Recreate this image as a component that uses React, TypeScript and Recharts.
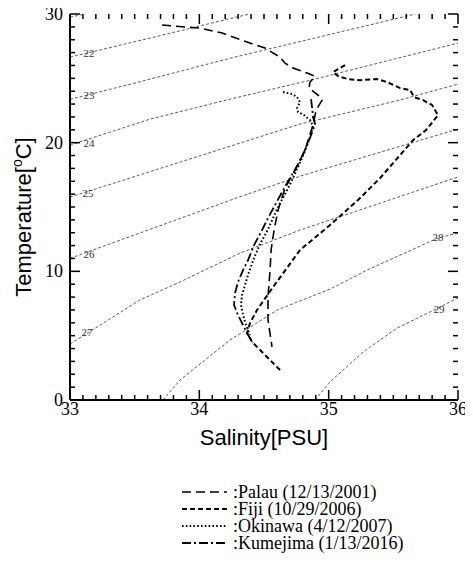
import React from 'react';
import { ComposedChart, Line, XAxis, YAxis, ReferenceDot, Customized } from 'recharts';

// ---------- axis ticks ----------
const salinityTicks = [
  33, 33.1, 33.2, 33.3, 33.4, 33.5, 33.6, 33.7, 33.8, 33.9,
  34, 34.1, 34.2, 34.3, 34.4, 34.5, 34.6, 34.7, 34.8, 34.9,
  35, 35.1, 35.2, 35.3, 35.4, 35.5, 35.6, 35.7, 35.8, 35.9, 36,
];
const salinityLabels = [33, 34, 35, 36];
const temperatureTicks = [
  0, 1, 2, 3, 4, 5, 6, 7, 8, 9, 10, 11, 12, 13, 14, 15, 16, 17, 18, 19, 20,
  21, 22, 23, 24, 25, 26, 27, 28, 29, 30,
];
const temperatureLabels = [0, 10, 20, 30];
const salinityMin = 33;
const salinityMax = 36;
const temperatureMin = 0;
const temperatureMax = 30;

// ---------- density contours (salinity, temperature) ----------
const sigma21 = [[33, 29.76], [33.12, 30]];
const sigma22 = [[33, 26.65], [33.62, 28.13], [34.24, 29.65], [34.39, 30]];
const sigma23 = [[33, 23.36], [33.62, 24.94], [34.24, 26.57], [34.86, 28.05], [35.67, 30]];
const sigma24 = [[33, 19.81], [33.62, 21.83], [34.24, 23.39], [34.86, 24.86], [36, 27.74]];
const sigma25 = [[33, 15.77], [34.315, 19.97], [34.78, 21.45], [35.55, 23.31], [36, 24.55]];
const sigma26 = [[33, 11.01], [34.315, 15.8], [34.78, 17.4], [36, 21.06]];
const sigma27 = [[33, 4.35], [33.54, 7.77], [33.85, 9.17], [34.315, 11.42], [34.78, 13.21], [35.01, 13.99], [36, 17.33]];
const sigma28 = [[33.719, 0], [33.85, 1.55], [34.237, 4.66], [34.601, 6.99], [35.011, 8.62], [35.297, 10.1], [35.846, 12.59], [36, 12.98]];
const sigma29 = [[34.895, 0], [35.01, 1.4], [35.266, 3.73], [35.529, 5.59], [35.846, 7.15], [36, 7.93]];
const contours = [sigma21, sigma22, sigma23, sigma24, sigma25, sigma26, sigma27, sigma28, sigma29];

const contourLabelText = ['22', '23', '24', '25', '26', '27', '28', '29'];
const contourLabelS = [33.147, 33.147, 33.147, 33.139, 33.147, 33.131, 35.846, 35.854];
const contourLabelT = [26.96, 23.7, 19.97, 16.08, 11.34, 5.28, 12.67, 7.07];

// ---------- profiles (salinity, temperature) ----------
const palau = [
  [33.712, 29.14], [34.005, 28.9], [34.176, 28.52], [34.369, 27.82], [34.508, 27.35],
  [34.624, 26.65], [34.663, 26.18], [34.725, 25.8], [34.833, 25.41], [34.895, 25.17],
  [34.856, 24.71], [34.848, 24.24], [34.918, 23.7], [34.949, 23.31], [34.903, 22.53],
  [34.887, 21.76], [34.879, 21.37], [34.817, 19.43], [34.74, 17.87], [34.663, 16.47],
  [34.609, 14.76], [34.578, 13.21], [34.555, 11.66], [34.547, 10.1], [34.531, 8.0],
  [34.531, 6.22], [34.562, 4.12],
];
const fiji = [
  [35.127, 26.03], [35.034, 25.49], [35.073, 25.17], [35.15, 24.94], [35.243, 24.86],
  [35.374, 24.94], [35.452, 24.71], [35.552, 24.24], [35.63, 24.09], [35.66, 23.54],
  [35.73, 23.31], [35.8, 22.92], [35.831, 22.38], [35.846, 22.14], [35.784, 21.37],
  [35.753, 20.98], [35.653, 20.2], [35.398, 17.25], [35.227, 15.54], [35.011, 13.6],
  [34.779, 11.66], [34.57, 8.78], [34.446, 6.99], [34.392, 5.98], [34.369, 5.21],
  [34.408, 4.51], [34.508, 3.5], [34.624, 2.33],
];
const okinawa = [
  [34.647, 23.93], [34.717, 23.78], [34.756, 23.54], [34.779, 23.15], [34.756, 22.69],
  [34.763, 22.38], [34.81, 22.14], [34.856, 21.76], [34.879, 21.29], [34.848, 20.2],
  [34.81, 19.19], [34.763, 18.1], [34.717, 17.09], [34.671, 16.16], [34.616, 15.15],
  [34.57, 14.14], [34.524, 13.13], [34.469, 12.12], [34.423, 11.03], [34.384, 9.95],
  [34.353, 8.94], [34.33, 8.16], [34.322, 7.38], [34.338, 6.6], [34.361, 5.83], [34.392, 5.05],
];
const kumejima = [
  [34.864, 23.39], [34.872, 22.69], [34.879, 21.99], [34.895, 21.45], [34.856, 20.36],
  [34.81, 19.27], [34.756, 18.18], [34.701, 17.25], [34.64, 16.16], [34.585, 15.15],
  [34.531, 14.14], [34.477, 13.05], [34.423, 12.04], [34.377, 10.88], [34.338, 10.1],
  [34.299, 9.17], [34.276, 8.31], [34.268, 7.38], [34.299, 6.6], [34.338, 5.83],
  [34.377, 5.05], [34.415, 4.43],
];

const seriesNames = [':Palau (12/13/2001)', ':Fiji (10/29/2006)', ':Okinawa (4/12/2007)', ':Kumejima (1/13/2016)'];
const seriesData = [palau, fiji, okinawa, kumejima];
const seriesDash = ['9 5', '5 3', '1.6 2.2', '9 3 2 3'];
const seriesWidth = [1.6, 2, 2, 1.8];

const toPts = (arr: number[][]) => arr.map(([s, t]) => ({ s, t }));

const SERIF = '"Liberation Serif", "Times New Roman", serif';
const SANS = '"Liberation Sans", Arial, sans-serif';

// chart geometry
const CHART_W = 473;
const CHART_H = 572;
const MARGIN_TOP = 14;
const MARGIN_RIGHT = 15;
const MARGIN_BOTTOM = 142;
const MARGIN_LEFT = 30;
const Y_AXIS_W = 40;
const X_AXIS_H = 30;
const PLOT_L = MARGIN_LEFT + Y_AXIS_W;
const PLOT_R = CHART_W - MARGIN_RIGHT;
const PLOT_T = MARGIN_TOP;
const PLOT_B = CHART_H - MARGIN_BOTTOM - X_AXIS_H;
const sx = (s: number) => PLOT_L + ((s - salinityMin) / (salinityMax - salinityMin)) * (PLOT_R - PLOT_L);
const ty = (t: number) => PLOT_B - ((t - temperatureMin) / (temperatureMax - temperatureMin)) * (PLOT_B - PLOT_T);

const near = (list: number[], v: number) => list.some((m) => Math.abs(m - v) < 1e-6);

// Inward tick marks on all four sides, drawn in an overlay layer above the chart
const TickOverlay = () => (
  <svg
    width={CHART_W}
    height={CHART_H}
    style={{ position: 'absolute', left: 0, top: 0, pointerEvents: 'none', overflow: 'visible' }}
  >
    {salinityTicks.map((v) => {
      const len = near(salinityLabels, v) ? 10 : 5;
      const x = sx(v);
      return (
        <g key={'xs' + v}>
          <line x1={x} y1={PLOT_B} x2={x} y2={PLOT_B - len} stroke="#000" strokeWidth={1.5} />
          <line x1={x} y1={PLOT_T} x2={x} y2={PLOT_T + len} stroke="#000" strokeWidth={1.5} />
        </g>
      );
    })}
    {temperatureTicks.map((v) => {
      const len = near(temperatureLabels, v) ? 10 : 5;
      const y = ty(v);
      return (
        <g key={'ys' + v}>
          <line x1={PLOT_L} y1={y} x2={PLOT_L + len} y2={y} stroke="#000" strokeWidth={1.5} />
          <line x1={PLOT_R} y1={y} x2={PLOT_R - len} y2={y} stroke="#000" strokeWidth={1.5} />
        </g>
      );
    })}
  </svg>
);

const Decorations = () => (
  <g>
    <text x={264} y={445} textAnchor="middle" fontFamily={SANS} fontSize={22} fill="#000">
      Salinity[PSU]
    </text>
    <text
      transform="translate(31,217) rotate(-90)"
      x={0}
      y={0}
      textAnchor="middle"
      fontFamily={SANS}
      fontSize={22}
      fill="#000"
    >
      Temperature[
      <tspan fontSize={14} dy={-9}>o</tspan>
      <tspan dy={9}>C]</tspan>
    </text>
    {seriesNames.map((name, i) => {
      const y = 492 + i * 17;
      return (
        <g key={name}>
          <line x1={182} y1={y} x2={227} y2={y} stroke="#000" strokeWidth={seriesWidth[i]} strokeDasharray={seriesDash[i]} />
          <text x={233} y={y + 6} fontFamily={SERIF} fontSize={18} fill="#000">
            {name}
          </text>
        </g>
      );
    })}
  </g>
);

export default function App() {
  return (
    <div style={{ position: 'relative', width: CHART_W, height: CHART_H, margin: -8 }}>
      <ComposedChart
        width={CHART_W}
        height={CHART_H}
        margin={{ top: MARGIN_TOP, right: MARGIN_RIGHT, bottom: MARGIN_BOTTOM, left: MARGIN_LEFT }}
      >
        <XAxis
          dataKey="s"
          type="number"
          domain={[salinityMin, salinityMax]}
          allowDataOverflow
          ticks={salinityLabels}
          tick={false}
          tickLine={false}
          height={X_AXIS_H}
          axisLine={{ stroke: '#000', strokeWidth: 2 }}
        />
        <XAxis
          xAxisId="top"
          orientation="top"
          dataKey="s"
          type="number"
          domain={[salinityMin, salinityMax]}
          allowDataOverflow
          ticks={salinityLabels}
          tick={false}
          tickLine={false}
          height={0}
          axisLine={{ stroke: '#000', strokeWidth: 2 }}
        />
        <YAxis
          type="number"
          domain={[temperatureMin, temperatureMax]}
          allowDataOverflow
          ticks={temperatureLabels}
          tick={false}
          tickLine={false}
          width={Y_AXIS_W}
          axisLine={{ stroke: '#000', strokeWidth: 2 }}
        />
        <YAxis
          yAxisId="right"
          orientation="right"
          type="number"
          domain={[temperatureMin, temperatureMax]}
          allowDataOverflow
          ticks={temperatureLabels}
          tick={false}
          tickLine={false}
          width={0}
          axisLine={{ stroke: '#000', strokeWidth: 2 }}
        />
        {contours.map((c, i) => (
          <Line
            key={'c' + i}
            data={toPts(c)}
            dataKey="t"
            type="linear"
            stroke="#333"
            strokeWidth={0.8}
            strokeDasharray="3 2"
            dot={false}
            activeDot={false}
            isAnimationActive={false}
            legendType="none"
          />
        ))}
        {contourLabelText.map((txt, i) => (
          <ReferenceDot
            key={'l' + txt}
            x={contourLabelS[i]}
            y={contourLabelT[i]}
            r={0}
            ifOverflow="visible"
            shape={(p: any) => (
              <text x={p.cx} y={p.cy + 4} textAnchor="middle" fontFamily={SERIF} fontSize={11} fill="#333">
                {txt}
              </text>
            )}
          />
        ))}
        {seriesData.map((d, i) => (
          <Line
            key={'s' + i}
            data={toPts(d)}
            dataKey="t"
            name={seriesNames[i]}
            type="linear"
            stroke="#000"
            strokeWidth={seriesWidth[i]}
            strokeDasharray={seriesDash[i]}
            dot={false}
            activeDot={false}
            isAnimationActive={false}
          />
        ))}
        {salinityLabels.map((v) => (
          <ReferenceDot
            key={'xl' + v}
            x={v}
            y={temperatureMin}
            r={0}
            ifOverflow="visible"
            shape={(p: any) => (
              <text x={p.cx} y={p.cy + 15} textAnchor="middle" fontFamily={SERIF} fontSize={18} fill="#000">
                {v}
              </text>
            )}
          />
        ))}
        {temperatureLabels.map((v) => (
          <ReferenceDot
            key={'yl' + v}
            x={salinityMin}
            y={v}
            r={0}
            ifOverflow="visible"
            shape={(p: any) => (
              <text x={p.cx - 7} y={p.cy + 6} textAnchor="end" fontFamily={SERIF} fontSize={18} fill="#000">
                {v}
              </text>
            )}
          />
        ))}
        <Customized component={<Decorations />} />
      </ComposedChart>
      <TickOverlay />
    </div>
  );
}
